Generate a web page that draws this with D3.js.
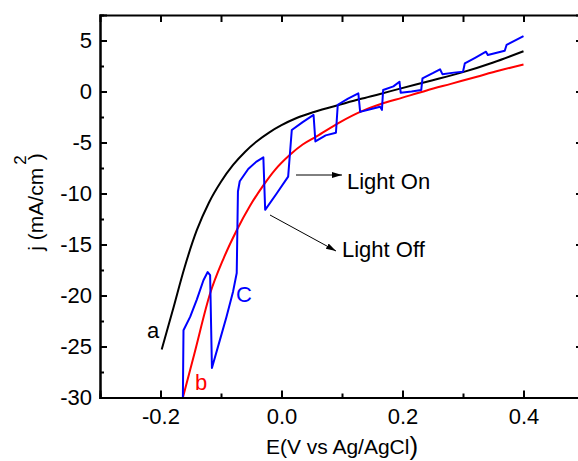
<!DOCTYPE html>
<html>
<head>
<meta charset="utf-8">
<script src="https://cdn.jsdelivr.net/npm/d3@7"></script>
<style>
  html, body { margin: 0; padding: 0; background: #fff; }
  svg { display: block; }
  text { font-family: "Liberation Sans", Arial, Helvetica, sans-serif; }
</style>
</head>
<body>
<svg id="chart" width="578" height="461"></svg>
<script>
// Potential (V vs Ag/AgCl) and current density (mA/cm^2) for each sweep.
// a: dark sweep
const curveA = [
  [-0.198, -25.3], [-0.18, -21.5], [-0.16, -17.2], [-0.14, -13.6], [-0.12, -10.9],
  [-0.10, -8.85], [-0.08, -7.2], [-0.06, -5.9], [-0.04, -4.85], [-0.02, -4.0],
  [0.0, -3.3], [0.025, -2.6], [0.055, -1.98], [0.097, -1.28], [0.13, -0.74],
  [0.163, -0.24], [0.196, 0.28], [0.25, 1.1], [0.30, 1.9], [0.35, 2.85], [0.40, 3.95]
];
// b: second sweep
const curveB = [
  [-0.163, -30], [-0.144, -25.7], [-0.118, -19.8], [-0.096, -16.4], [-0.074, -13.6],
  [-0.052, -11.2], [-0.03, -9.2], [-0.011, -7.7], [0.014, -6.2], [0.035, -5.2],
  [0.058, -4.4], [0.097, -3.0], [0.13, -2.0], [0.163, -1.25], [0.20, -0.6],
  [0.24, 0.1], [0.28, 0.75], [0.323, 1.45], [0.36, 2.05], [0.40, 2.65]
];
// C: chopped illumination sweep
const curveC = [
  [-0.163, -30], [-0.162, -23.4], [-0.151, -22.1], [-0.140, -20.4], [-0.129, -18.5],
  [-0.122, -17.7], [-0.118, -18.0], [-0.115, -27.1], [-0.102, -24.4], [-0.091, -22.1],
  [-0.080, -19.6], [-0.074, -17.8], [-0.072, -9.8], [-0.069, -8.8], [-0.055, -7.6],
  [-0.042, -6.9], [-0.030, -6.45], [-0.027, -11.6], [-0.008, -10.0], [0.011, -8.35],
  [0.017, -3.77], [0.035, -3.0], [0.053, -2.3], [0.056, -4.9], [0.073, -4.3],
  [0.090, -4.05], [0.093, -1.3], [0.110, -0.7], [0.127, -0.18], [0.130, -2.0],
  [0.150, -1.7], [0.163, -1.5], [0.166, -1.8], [0.168, 0.15], [0.185, 0.5],
  [0.195, 0.96], [0.197, -0.12], [0.215, 0.0], [0.231, 0.15], [0.233, 1.29],
  [0.250, 1.8], [0.262, 2.18], [0.266, 1.7], [0.285, 1.85], [0.300, 1.94],
  [0.303, 2.76], [0.320, 3.3], [0.338, 3.9], [0.341, 3.58], [0.369, 4.0],
  [0.372, 4.56], [0.400, 5.44]
];

const xMajorTicks = [-0.2, 0.0, 0.2, 0.4];
const xMinorTicks = [-0.1, 0.1, 0.3];
const xTickLabels = ["-0.2", "0.0", "0.2", "0.4"];
const yMajorTicks = [5, 0, -5, -10, -15, -20, -25, -30];
const yMinorTicks = [2.5, -2.5, -7.5, -12.5, -17.5, -22.5, -27.5];
const yTickLabels = ["5", "0", "-5", "-10", "-15", "-20", "-25", "-30"];

const svg = d3.select("#chart");
const plotLeft = 100, plotRight = 584, plotTop = 15, plotBottom = 397.5;

const x = d3.scaleLinear().domain([-0.3, 0.5]).range([plotLeft, plotRight]);
const y = d3.scaleLinear().domain([-30, 7.5]).range([plotBottom, plotTop]);

const FONT = 22;

// Curves
const smooth = d3.line().x(d => x(d[0])).y(d => y(d[1])).curve(d3.curveMonotoneX);
const straight = d3.line().x(d => x(d[0])).y(d => y(d[1]));

svg.append("path").datum(curveA).attr("d", smooth)
  .attr("fill", "none").attr("stroke", "#000").attr("stroke-width", 2);
svg.append("path").datum(curveB).attr("d", smooth)
  .attr("fill", "none").attr("stroke", "#ff0000").attr("stroke-width", 2);
svg.append("path").datum(curveC).attr("d", straight)
  .attr("fill", "none").attr("stroke", "#0000ff").attr("stroke-width", 2)
  .attr("stroke-linejoin", "round");

// Axes (ticks point inward)
function styleAxis(g) {
  g.select(".domain").attr("stroke", "#000").attr("stroke-width", 2);
  g.selectAll(".tick line").attr("stroke", "#000").attr("stroke-width", 2);
  g.selectAll("text").attr("font-size", FONT).attr("fill", "#000")
    .attr("font-family", "Liberation Sans, Arial, sans-serif");
}

svg.append("g").attr("transform", `translate(0,${plotBottom})`)
  .call(d3.axisBottom(x).tickValues(xMajorTicks).tickSize(-7).tickPadding(11)
    .tickFormat((d, i) => xTickLabels[i]))
  .call(styleAxis);
svg.append("g").attr("transform", `translate(0,${plotBottom})`)
  .call(d3.axisBottom(x).tickValues(xMinorTicks).tickSize(-4).tickFormat(""))
  .call(styleAxis);

svg.append("g").attr("transform", `translate(0,${plotTop})`)
  .call(d3.axisTop(x).tickValues(xMajorTicks.concat(xMinorTicks)).tickSize(-7).tickFormat(""))
  .call(styleAxis);

svg.append("g").attr("transform", `translate(${plotLeft},0)`)
  .call(d3.axisLeft(y).tickValues(yMajorTicks).tickSize(-7).tickPadding(8)
    .tickFormat((d, i) => yTickLabels[i]))
  .call(styleAxis);
svg.append("g").attr("transform", `translate(${plotLeft},0)`)
  .call(d3.axisLeft(y).tickValues(yMinorTicks).tickSize(-4).tickFormat(""))
  .call(styleAxis);

svg.append("g").attr("transform", `translate(${plotRight},0)`)
  .call(d3.axisRight(y).tickValues(yMajorTicks).tickSize(-8).tickFormat(""))
  .call(styleAxis);

// Axis titles
const xt = svg.append("text")
  .attr("x", 342).attr("y", 454).attr("text-anchor", "middle")
  .attr("font-size", 21).attr("fill", "#000");
xt.append("tspan").text("E(V vs Ag/AgCl");
xt.append("tspan").attr("font-size", 26).attr("dy", 1).text(")");

const yt = svg.append("text")
  .attr("transform", "translate(43,202) rotate(-90)")
  .attr("text-anchor", "middle").attr("font-size", 21).attr("fill", "#000");
yt.append("tspan").text("j (mA/cm");
yt.append("tspan").attr("font-size", 17).attr("dy", -17).attr("dx", 3).text("2");
yt.append("tspan").attr("dy", 17).attr("dx", -5).text(")");

// Curve labels
svg.append("text").attr("x", 147).attr("y", 338).attr("font-size", FONT)
  .attr("fill", "#000").text("a");
svg.append("text").attr("x", 195).attr("y", 390).attr("font-size", FONT)
  .attr("fill", "#ff0000").text("b");
svg.append("text").attr("x", 236).attr("y", 302).attr("font-size", FONT)
  .attr("fill", "#0000ff").text("C");

// Illumination annotations
svg.append("defs").append("marker")
  .attr("id", "head").attr("viewBox", "0 0 10 10")
  .attr("refX", 10).attr("refY", 5)
  .attr("markerWidth", 10).attr("markerHeight", 10)
  .attr("markerUnits", "userSpaceOnUse")
  .attr("orient", "auto")
  .append("path").attr("d", "M0,2 L10,5 L0,8 Z").attr("fill", "#000");

svg.append("line").attr("x1", 296).attr("y1", 175).attr("x2", 342).attr("y2", 175)
  .attr("stroke", "#000").attr("stroke-width", 1).attr("marker-end", "url(#head)");
svg.append("line").attr("x1", 270).attr("y1", 215).attr("x2", 336).attr("y2", 251)
  .attr("stroke", "#000").attr("stroke-width", 1).attr("marker-end", "url(#head)");

svg.append("text").attr("x", 347).attr("y", 189).attr("font-size", FONT)
  .attr("fill", "#000").text("Light On");
svg.append("text").attr("x", 342).attr("y", 257).attr("font-size", FONT)
  .attr("fill", "#000").text("Light Off");
</script>
</body>
</html>
